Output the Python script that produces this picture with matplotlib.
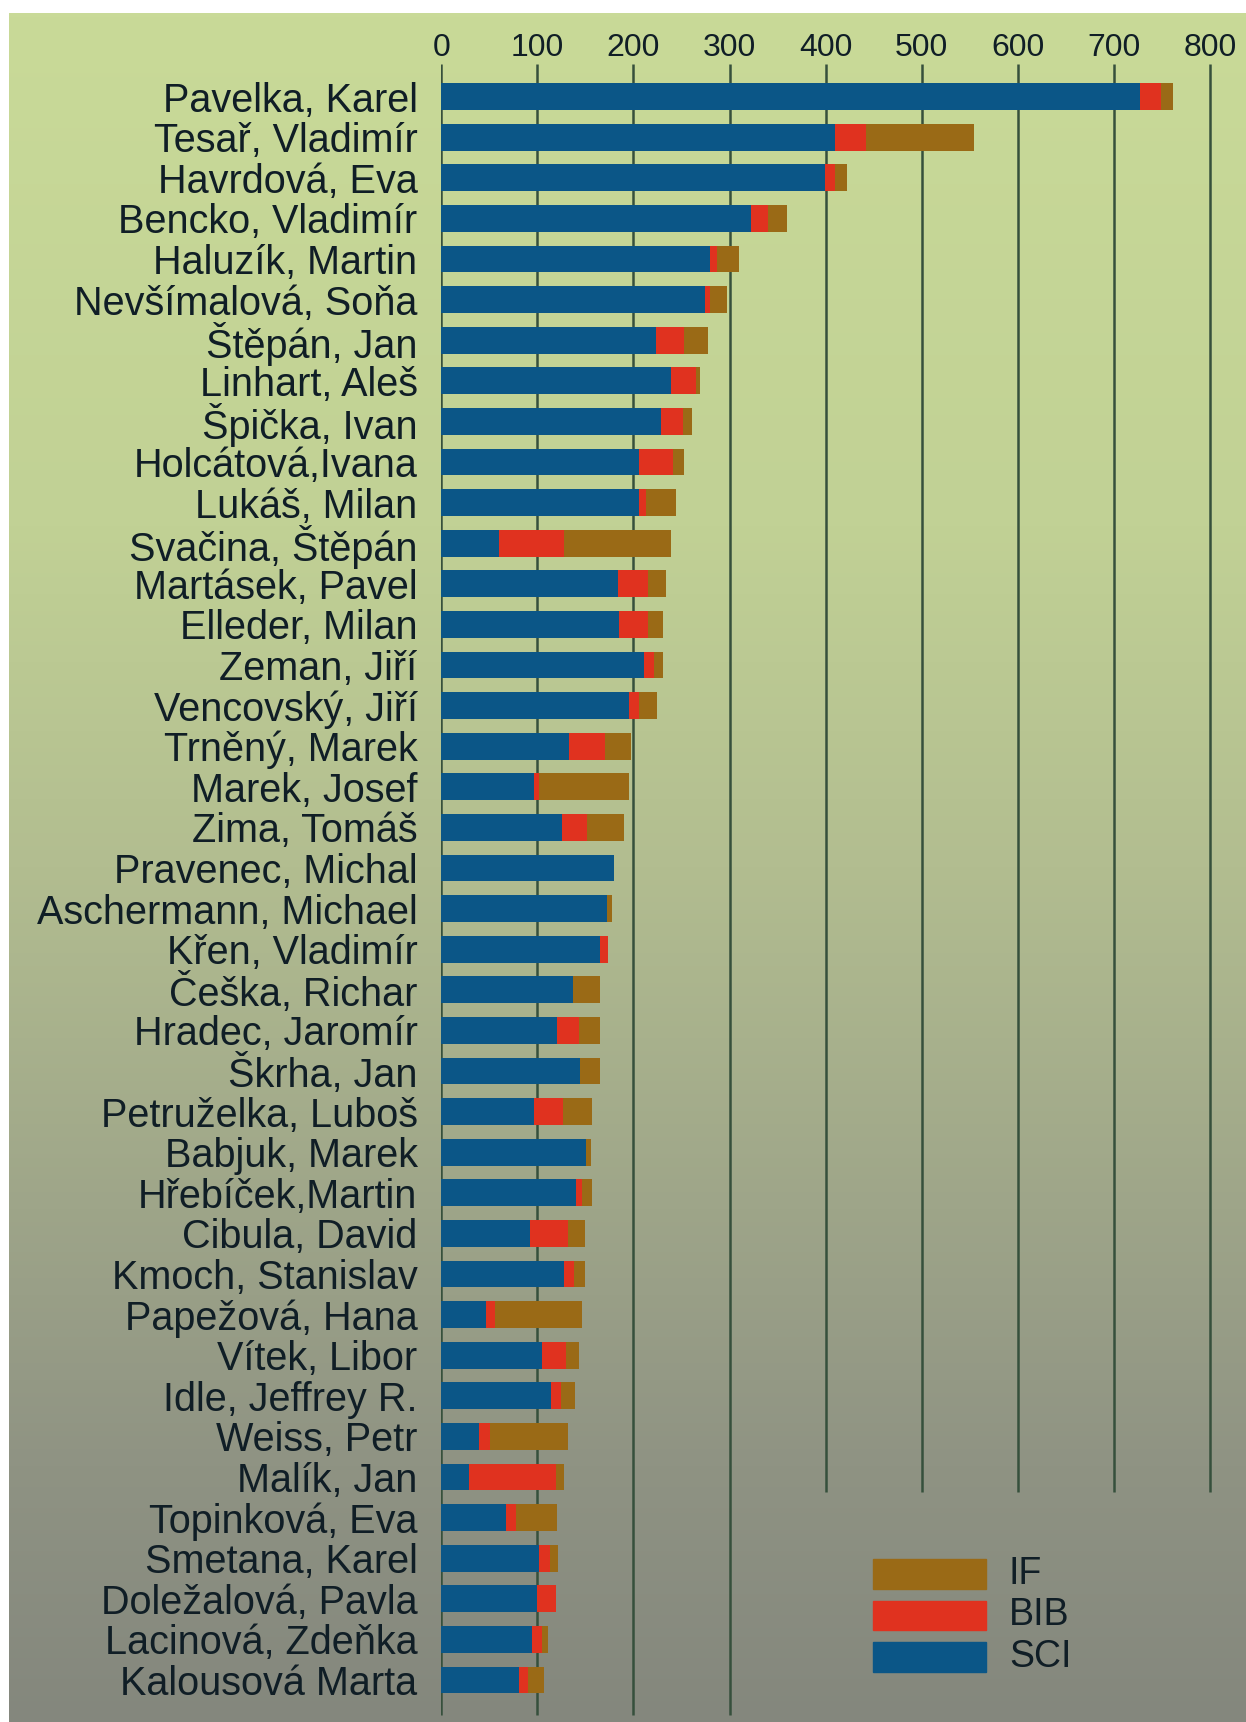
import matplotlib
matplotlib.use("Agg")
import matplotlib.pyplot as plt
import numpy as np
from matplotlib import font_manager
from matplotlib.patches import Rectangle

# data, top row first
names = ["Pavelka, Karel", "Tesař, Vladimír", "Havrdová, Eva", "Bencko, Vladimír",
         "Haluzík, Martin", "Nevšímalová, Soňa", "Štěpán, Jan", "Linhart, Aleš",
         "Špička, Ivan", "Holcátová,Ivana", "Lukáš, Milan", "Svačina, Štěpán",
         "Martásek, Pavel", "Elleder, Milan", "Zeman, Jiří", "Vencovský, Jiří",
         "Trněný, Marek", "Marek, Josef", "Zima, Tomáš", "Pravenec, Michal",
         "Aschermann, Michael", "Křen, Vladimír", "Češka, Richar", "Hradec, Jaromír",
         "Škrha, Jan", "Petruželka, Luboš", "Babjuk, Marek", "Hřebíček,Martin",
         "Cibula, David", "Kmoch, Stanislav", "Papežová, Hana", "Vítek, Libor",
         "Idle, Jeffrey R.", "Weiss, Petr", "Malík, Jan", "Topinková, Eva",
         "Smetana, Karel", "Doležalová, Pavla", "Lacinová, Zdeňka", "Kalousová Marta"]

sci = [727, 410, 399, 322, 280, 274, 224, 239, 229, 206,
       206, 60, 184, 185, 211, 195, 133, 97, 126, 180,
       173, 165, 137, 120, 144, 97, 151, 140, 92, 128,
       47, 105, 114, 39, 29, 67, 102, 100, 95, 81]
bib = [22, 32, 11, 18, 7, 6, 29, 26, 23, 35,
       7, 68, 31, 30, 10, 11, 37, 5, 26, 0,
       0, 9, 0, 23, 0, 30, 0, 6, 40, 10,
       9, 25, 11, 12, 90, 11, 11, 19, 10, 9]
impact = [12, 112, 12, 20, 23, 17, 25, 4, 9, 12,
          31, 111, 19, 16, 10, 19, 28, 93, 38, 0,
          5, 0, 28, 22, 21, 30, 5, 11, 18, 12,
          91, 13, 14, 81, 9, 42, 9, 0, 6, 17]

ticks = [0, 100, 200, 300, 400, 500, 600, 700, 800]
series_names = ["IF", "BIB", "SCI"]

c_sci = "#0b5687"
c_bib = "#e0321f"
c_if = "#9a6a16"
c_text = "#101e26"
c_grid = "#36503c"

# narrow font for the axis numbers if we have one
installed = {f.name for f in font_manager.fontManager.ttflist}
if "Liberation Sans Narrow" in installed:
    num_font, num_size = "Liberation Sans Narrow", 25
else:
    num_font, num_size = "Liberation Sans", 23
name_font = "Liberation Sans"

W, H = 1246, 1722
fig = plt.figure(figsize=(W / 100, H / 100), dpi=100, facecolor="white")

# greenish to grey background
bg = fig.add_axes([9 / W, 0, 1 - 9 / W, 1 - 13 / H], zorder=0)
stops = [0, 0.3, 0.5, 0.7, 0.85, 1.0]
cols = np.array([(201, 218, 152), (193, 209, 149), (178, 189, 144),
                 (158, 165, 137), (143, 147, 131), (132, 135, 125)]) / 255
yy = np.linspace(0, 1, 400)
grad = np.stack([np.interp(yy, stops, cols[:, k]) for k in range(3)], axis=-1)
bg.imshow(grad[:, None, :], aspect="auto", extent=[0, 1, 0, 1])
bg.axis("off")

x0 = 441.2      # pixel of zero
px100 = 96.1    # pixels per 100 units
row0 = 96.6     # pixel centre of first row
pitch = 40.6

ax = fig.add_axes([x0 / W, 0, 1 - x0 / W, 1], zorder=1)
ax.patch.set_alpha(0)
ax.set_xlim(0, (W - x0) / px100 * 100)
ax.set_ylim((H - row0) / pitch, -row0 / pitch)

y = np.arange(len(names))
sci_a = np.array(sci)
bib_a = np.array(bib)
if_a = np.array(impact)

# vertical grid, the left ones run down past the legend
for t in ticks:
    y_end = (1715 - row0) / pitch if t <= 300 else (1492 - row0) / pitch
    ax.plot([t, t], [(64 - row0) / pitch, y_end], color=c_grid, lw=1.8,
            solid_capstyle="butt", zorder=1)
    ax.text(t, (48 - row0) / pitch, str(t), ha="center", va="center",
            fontsize=num_size, family=num_font, color=c_text)

ax.barh(y, sci_a, height=0.66, color=c_sci, zorder=2)
ax.barh(y, bib_a, left=sci_a, height=0.66, color=c_bib, zorder=2)
ax.barh(y, if_a, left=sci_a + bib_a, height=0.66, color=c_if, zorder=2)

ax.set_yticks(y)
ax.set_yticklabels(names, fontsize=28.5, family=name_font, color=c_text)
ax.tick_params(axis="y", length=0, pad=17)
ax.set_xticks([])
for s in ax.spines.values():
    s.set_visible(False)

# legend drawn by hand
leg_cols = [c_if, c_bib, c_sci]
lx0 = (873 - x0) / px100 * 100
lx1 = (986 - x0) / px100 * 100
tx = (1009 - x0) / px100 * 100
for i, (lab, col) in enumerate(zip(series_names, leg_cols)):
    yc = (1574 + i * 41.5 - row0) / pitch
    ax.add_patch(Rectangle((lx0, yc - 0.36), lx1 - lx0, 0.72, color=col, zorder=2))
    ax.text(tx, yc, lab, ha="left", va="center", fontsize=27,
            family=name_font, color=c_text)

fig.savefig("out.png", dpi=100, facecolor="white")
